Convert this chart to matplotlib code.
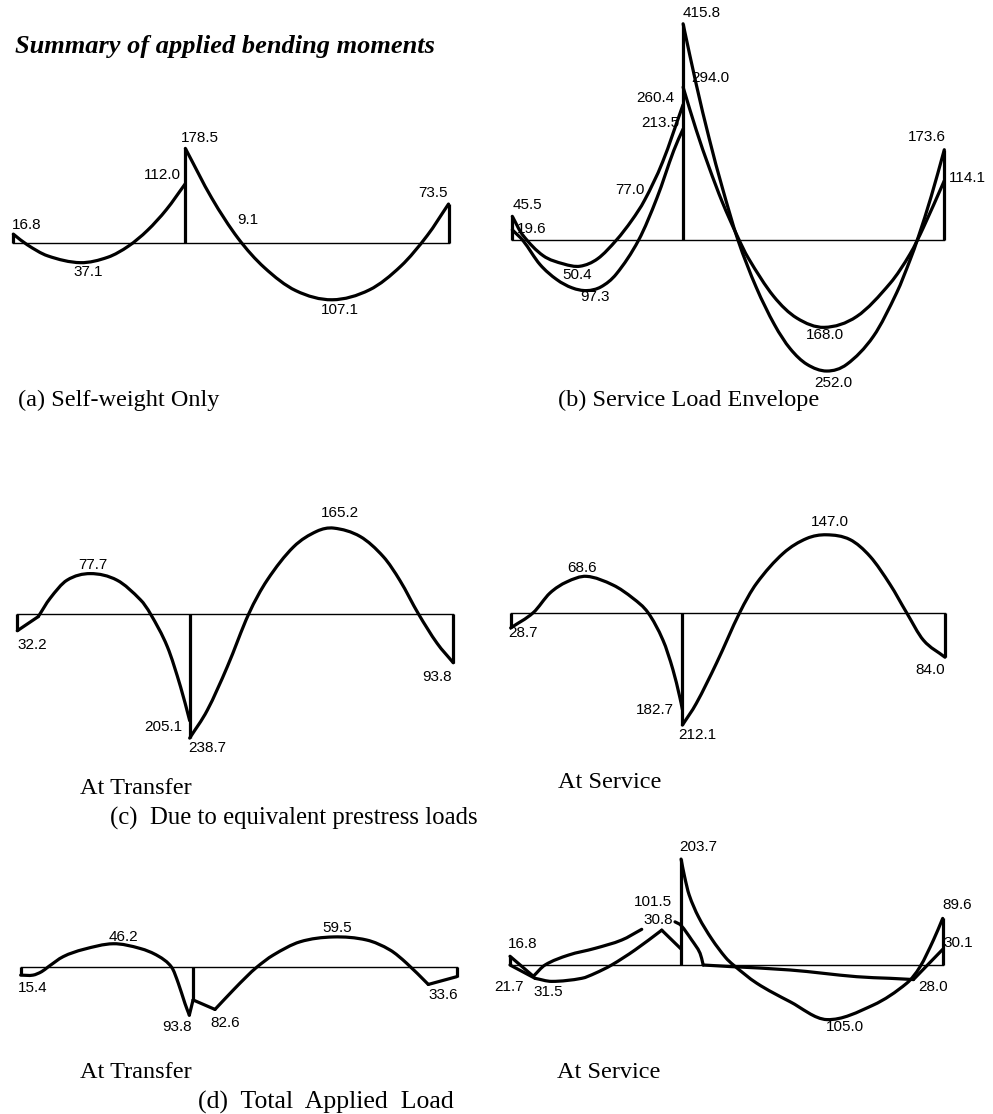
import matplotlib
matplotlib.use("Agg")
import matplotlib.pyplot as plt
import numpy as np
from matplotlib.path import Path
from matplotlib.patches import PathPatch

# ---------------------------------------------------------------------------
# Beam geometry (two continuous spans, m)
SPAN_1 = 17.0
SPAN_2 = 26.0
BEAM_END = SPAN_1 + SPAN_2

# ---------------------------------------------------------------------------
# Bending moment ordinates (kNm).  Stations are distances along the beam (m);
# moments are plotted with the sign used on the diagrams (up = positive).

# (a) Self-weight only
A_SPAN1_X = [0.0, 1.36, 3.4, 6.63, 9.35, 11.39, 13.26, 15.13, 17.0]
A_SPAN1_M = [16.8, -3.1, -24.3, -37.1, -26.8, -5.7, 23.9, 63.1, 112.0]
A_SPAN2_X = [17.0, 19.6, 22.2, 24.8, 27.9, 31.5, 35.2, 38.3, 40.9, 43.0]
A_SPAN2_M = [178.5, 85.0, 9.1, -46.3, -89.8, -107.1, -88.3, -43.5, 14.1, 73.5]

# (b) Service load envelope
B_SPAN1_LOW_X = [0.0, 1.1, 2.75, 4.42, 5.95, 7.41, 8.84, 10.37, 12.58, 14.4, 16.07, 17.0]
B_SPAN1_LOW_M = [19.6, -2.0, -47.0, -76.0, -92.0, -97.3, -90.0, -65.0, 0.0, 81.0, 172.0, 213.5]
B_SPAN1_HIGH_X = [0.0, 1.02, 3.06, 5.1, 6.75, 8.5, 10.37, 11.9, 13.18, 14.96, 17.0]
B_SPAN1_HIGH_M = [45.5, 10.0, -30.0, -46.0, -50.4, -36.0, 0.0, 38.0, 77.0, 150.0, 260.4]
B_SPAN2_OUTER_X = [17.0, 18.3, 19.6, 20.9, 22.46, 24.28, 26.1, 27.66, 29.32,
                   31.3, 33.3, 35.95, 38.27, 39.6, 40.4, 41.7, 43.0]
B_SPAN2_OUTER_M = [415.8, 300.0, 195.0, 101.0, 0.0, -91.0, -163.0, -209.0, -239.0,
                   -252.0, -239.0, -185.0, -101.0, -38.0, 5.0, 84.0, 173.6]
B_SPAN2_INNER_X = [17.0, 18.3, 19.6, 20.9, 22.36, 23.5, 26.0, 28.31, 31.04,
                   34.29, 37.62, 39.59, 40.92, 43.0]
B_SPAN2_INNER_M = [294.0, 212.0, 139.0, 73.0, 9.0, -35.0, -108.0, -150.0, -168.0,
                   -147.0, -83.0, -27.0, 24.0, 114.1]

# (c) Equivalent prestress loads - at transfer
C_T_SPAN1_X = [0.0, 2.07, 3.23, 4.9, 7.2, 9.84, 12.16, 13.14, 14.8, 16.1, 17.0]
C_T_SPAN1_M = [-32.2, -5.0, 30.0, 65.0, 77.7, 65.0, 27.0, 0.0, -63.0, -140.0, -205.1]
C_T_SPAN2_X = [17.0, 18.74, 20.72, 22.82, 24.64, 27.24, 29.53, 31.2, 33.82,
               36.11, 37.75, 39.57, 41.39, 43.0]
C_T_SPAN2_M = [-238.7, -185.0, -101.0, 0.0, 65.0, 129.0, 159.0, 165.2, 149.0,
               110.0, 64.0, 0.0, -56.0, -93.8]

# (c) Equivalent prestress loads - at service
C_S_SPAN1_X = [0.0, 2.23, 3.88, 5.54, 7.51, 10.15, 12.12, 13.6, 15.08, 16.07, 16.75, 17.0]
C_S_SPAN1_M = [-28.7, 0.0, 37.0, 58.0, 68.6, 52.0, 27.0, 0.0, -52.0, -108.0, -160.0, -182.7]
C_S_SPAN2_X = [17.0, 18.38, 20.38, 22.67, 24.33, 26.98, 29.3, 31.27, 33.59,
               35.59, 37.57, 39.2, 40.87, 43.0]
C_S_SPAN2_M = [-212.1, -171.0, -95.0, 0.0, 55.0, 112.0, 140.0, 147.0, 138.0,
               106.0, 53.0, 0.0, -52.0, -84.0]

# (d) Total applied load - at transfer
D_T_SPAN1_X = [0.0, 1.2, 2.07, 2.72, 4.2, 6.17, 9.13, 11.77, 13.57, 14.89, 15.54,
               16.2, 16.63, 17.0]
D_T_SPAN1_M = [-15.4, -15.4, -8.5, 1.0, 21.0, 35.0, 46.2, 37.0, 22.0, 0.0, -31.0,
               -71.0, -93.8, -64.0]
D_T_SPAN2_X = [17.0, 19.16, 20.97, 22.29, 23.27, 24.91, 27.55, 30.83, 34.12,
               36.42, 38.06, 40.2, 43.0]
D_T_SPAN2_M = [-64.0, -82.6, -44.5, -18.0, 0.0, 24.0, 50.0, 59.5, 53.5,
               34.0, 8.0, -33.6, -18.4]

# (d) Total applied load - at service (envelope)
D_S_HIGH1_X = [0.0, 2.32, 3.48, 5.8, 8.45, 11.1, 13.09]
D_S_HIGH1_M = [16.8, -21.7, 0.0, 19.0, 32.0, 48.0, 68.6]
D_S_LOW1_X = [0.0, 2.49, 4.14, 7.13, 8.45, 10.1, 12.43, 15.08, 17.0]
D_S_LOW1_M = [0.0, -25.6, -31.5, -25.6, -16.0, 0.0, 29.0, 67.0, 30.8]
D_S_HIGH2_X = [16.4, 17.0, 18.06, 18.89, 19.2, 21.87, 27.83, 34.46, 37.77, 40.09, 43.0]
D_S_HIGH2_M = [83.0, 76.0, 48.0, 22.5, 0.0, -3.0, -9.6, -22.5, -25.6, -28.0, 30.1]
D_S_SPAN2_X = [17.0, 17.35, 17.8, 18.72, 20.05, 21.4, 22.2, 24.52, 27.83, 31.48,
               36.1, 39.43, 40.76, 42.08, 43.0]
D_S_SPAN2_M = [203.7, 170.0, 135.0, 93.0, 50.0, 15.0, 0.0, -35.0, -70.6, -105.0,
               -77.0, -35.0, -3.0, 48.0, 89.6]
D_S_NOTE = 101.5

# ---------------------------------------------------------------------------
W, H = 993, 1114
fig = plt.figure(figsize=(W / 100, H / 100), dpi=100)
fig.patch.set_facecolor("white")

NUM_FONT = dict(family="Liberation Sans", fontsize=11, color="black")
CAP_FONT = dict(family="Liberation Serif", fontsize=17.5, color="black")
CURVE_LW = 2.3
BASE_LW = 1.0


def panel_axes(left_px, right_px, base_px, px_per_unit, half=260):
    """Axes whose x runs along the beam and y in kNm, placed in pixels."""
    top = base_px - half
    bottom = base_px + half
    ax = fig.add_axes([left_px / W, 1 - bottom / H, (right_px - left_px) / W,
                       (bottom - top) / H])
    ax.set_xlim(0, BEAM_END)
    ax.set_ylim(-(bottom - base_px) / px_per_unit, (base_px - top) / px_per_unit)
    ax.axis("off")
    ax.patch.set_alpha(0)
    ax.plot([0, BEAM_END], [0, 0], color="black", lw=BASE_LW, clip_on=False)
    return ax


def smooth_path(xs, ms):
    """Cubic Hermite curve through the stations (y as a function of x)."""
    x = np.asarray(xs, float)
    y = np.asarray(ms, float)
    n = len(x)
    if n == 2:
        return Path(np.column_stack([x, y]), [Path.MOVETO, Path.LINETO])
    slopes = np.empty(n)
    slopes[0] = (y[1] - y[0]) / (x[1] - x[0])
    slopes[-1] = (y[-1] - y[-2]) / (x[-1] - x[-2])
    for i in range(1, n - 1):
        slopes[i] = (y[i + 1] - y[i - 1]) / (x[i + 1] - x[i - 1])
    verts = [(x[0], y[0])]
    codes = [Path.MOVETO]
    for i in range(n - 1):
        h = x[i + 1] - x[i]
        verts += [(x[i] + h / 3, y[i] + slopes[i] * h / 3),
                  (x[i + 1] - h / 3, y[i + 1] - slopes[i + 1] * h / 3),
                  (x[i + 1], y[i + 1])]
        codes += [Path.CURVE4] * 3
    return Path(verts, codes)


def draw_curve(ax, xs, ms, corners=()):
    """Draw a moment curve, breaking the smoothing at corner stations."""
    cuts = [0] + list(corners) + [len(xs) - 1]
    for a, b in zip(cuts[:-1], cuts[1:]):
        path = smooth_path(xs[a:b + 1], ms[a:b + 1])
        ax.add_patch(PathPatch(path, fill=False, ec="black", lw=CURVE_LW,
                               capstyle="round", joinstyle="round", clip_on=False))


def ordinate(ax, x, m):
    ax.plot([x, x], [0, m], color="black", lw=CURVE_LW, solid_capstyle="butt",
            clip_on=False)


def value_label(value, px, py, ha="center"):
    fig.text(px / W, 1 - py / H, f"{abs(value):.1f}", ha=ha, va="center", **NUM_FONT)


def caption(text, px, py, **kw):
    style = dict(CAP_FONT)
    style.update(kw)
    fig.text(px / W, 1 - py / H, text, ha="left", va="center", **style)


# Title
fig.text(15 / W, 1 - 47 / H, "Summary of applied bending moments", ha="left",
         va="center", family="Liberation Serif", fontsize=19, fontweight="bold",
         fontstyle="italic")

# ---- (a) ------------------------------------------------------------------
ax = panel_axes(13.3, 448.5, 243.0, 0.53)
draw_curve(ax, A_SPAN1_X, A_SPAN1_M)
draw_curve(ax, A_SPAN2_X, A_SPAN2_M)
ordinate(ax, 0.0, A_SPAN1_M[0])
ordinate(ax, SPAN_1, A_SPAN2_M[0])
ordinate(ax, BEAM_END, A_SPAN2_M[-1])
value_label(A_SPAN1_M[0], 27, 225)
value_label(A_SPAN1_M[3], 88, 272)
value_label(A_SPAN1_M[-1], 162, 175)
value_label(A_SPAN2_M[0], 200, 138)
value_label(A_SPAN2_M[2], 248, 220)
value_label(A_SPAN2_M[5], 340, 310)
value_label(A_SPAN2_M[-1], 433, 193)
caption("(a) Self-weight Only", 18, 400)

# ---- (b) ------------------------------------------------------------------
ax = panel_axes(512.3, 944.3, 240.0, 0.52)
draw_curve(ax, B_SPAN1_LOW_X, B_SPAN1_LOW_M)
draw_curve(ax, B_SPAN1_HIGH_X, B_SPAN1_HIGH_M)
draw_curve(ax, B_SPAN2_OUTER_X, B_SPAN2_OUTER_M)
draw_curve(ax, B_SPAN2_INNER_X, B_SPAN2_INNER_M)
ordinate(ax, 0.0, B_SPAN1_HIGH_M[0])
ordinate(ax, SPAN_1, B_SPAN2_OUTER_M[0])
ordinate(ax, BEAM_END, B_SPAN2_OUTER_M[-1])
value_label(B_SPAN2_OUTER_M[0], 702, 13)
value_label(B_SPAN2_INNER_M[0], 710, 78)
value_label(B_SPAN1_HIGH_M[-1], 655, 98)
value_label(B_SPAN1_LOW_M[-1], 660, 123)
value_label(B_SPAN1_HIGH_M[8], 630, 190)
value_label(B_SPAN1_HIGH_M[0], 527, 205)
value_label(B_SPAN1_LOW_M[0], 532, 229)
value_label(B_SPAN1_HIGH_M[4], 577, 275)
value_label(B_SPAN1_LOW_M[5], 595, 297)
value_label(B_SPAN2_OUTER_M[-1], 927, 137)
value_label(B_SPAN2_INNER_M[-1], 967, 178)
value_label(B_SPAN2_INNER_M[8], 825, 335)
value_label(B_SPAN2_OUTER_M[9], 833, 383)
caption("(b) Service Load Envelope", 558, 400)

# ---- (c) at transfer -------------------------------------------------------
ax = panel_axes(17.3, 453.3, 614.0, 0.52)
draw_curve(ax, C_T_SPAN1_X, C_T_SPAN1_M, corners=[1])
draw_curve(ax, C_T_SPAN2_X, C_T_SPAN2_M)
ordinate(ax, 0.0, C_T_SPAN1_M[0])
ordinate(ax, SPAN_1, C_T_SPAN2_M[0])
ordinate(ax, BEAM_END, C_T_SPAN2_M[-1])
value_label(C_T_SPAN1_M[0], 32, 645)
value_label(C_T_SPAN1_M[4], 93, 565)
value_label(C_T_SPAN1_M[-1], 163, 727)
value_label(C_T_SPAN2_M[0], 207, 748)
value_label(C_T_SPAN2_M[7], 340, 513)
value_label(C_T_SPAN2_M[-1], 437, 677)
caption("At Transfer", 80, 789)
caption("(c)  Due to equivalent prestress loads", 110, 818, fontsize=17.8)

# ---- (c) at service --------------------------------------------------------
ax = panel_axes(510.7, 945.0, 612.7, 0.53)
draw_curve(ax, C_S_SPAN1_X, C_S_SPAN1_M)
draw_curve(ax, C_S_SPAN2_X, C_S_SPAN2_M)
ordinate(ax, 0.0, C_S_SPAN1_M[0])
ordinate(ax, SPAN_1, C_S_SPAN2_M[0])
ordinate(ax, BEAM_END, C_S_SPAN2_M[-1])
value_label(C_S_SPAN1_M[0], 523, 633)
value_label(C_S_SPAN1_M[4], 582, 568)
value_label(C_S_SPAN1_M[-1], 655, 710)
value_label(C_S_SPAN2_M[0], 697, 735)
value_label(C_S_SPAN2_M[7], 830, 522)
value_label(C_S_SPAN2_M[-1], 930, 670)
caption("At Service", 558, 783)

# ---- (d) at transfer -------------------------------------------------------
ax = panel_axes(20.7, 456.7, 967.3, 0.51)
draw_curve(ax, D_T_SPAN1_X, D_T_SPAN1_M, corners=[12])
draw_curve(ax, D_T_SPAN2_X, D_T_SPAN2_M, corners=[1, 11])
ordinate(ax, 0.0, D_T_SPAN1_M[0])
ordinate(ax, SPAN_1, D_T_SPAN2_M[0])
ordinate(ax, BEAM_END, D_T_SPAN2_M[-1])
value_label(D_T_SPAN1_M[0], 33, 988)
value_label(D_T_SPAN1_M[6], 123, 937)
value_label(D_T_SPAN1_M[12], 177, 1027)
value_label(D_T_SPAN2_M[1], 225, 1023)
value_label(D_T_SPAN2_M[7], 337, 928)
value_label(D_T_SPAN2_M[11], 443, 995)
caption("At Transfer", 80, 1073)
caption("(d)  Total  Applied  Load", 198, 1102, fontsize=18.5)

# ---- (d) at service --------------------------------------------------------
ax = panel_axes(510.0, 942.7, 965.0, 0.52)
draw_curve(ax, D_S_HIGH1_X, D_S_HIGH1_M, corners=[1])
draw_curve(ax, D_S_LOW1_X, D_S_LOW1_M, corners=[1, 7])
draw_curve(ax, D_S_HIGH2_X, D_S_HIGH2_M, corners=[4, 9])
draw_curve(ax, D_S_SPAN2_X, D_S_SPAN2_M)
ordinate(ax, 0.0, D_S_HIGH1_M[0])
ordinate(ax, SPAN_1, D_S_SPAN2_M[0])
ordinate(ax, BEAM_END, D_S_SPAN2_M[-1])
value_label(D_S_HIGH1_M[0], 523, 944)
value_label(D_S_HIGH1_M[1], 509, 987)
value_label(D_S_LOW1_M[2], 548, 992)
value_label(D_S_NOTE, 653, 902)
value_label(D_S_LOW1_M[-1], 658, 920)
value_label(D_S_SPAN2_M[0], 698, 847)
value_label(D_S_SPAN2_M[-1], 957, 905)
value_label(D_S_HIGH2_M[-1], 958, 943)
value_label(D_S_SPAN2_M[9], 845, 1027)
value_label(D_S_HIGH2_M[-2], 933, 987)
caption("At Service", 557, 1072)

fig.savefig("out.png", dpi=100, facecolor="white")
